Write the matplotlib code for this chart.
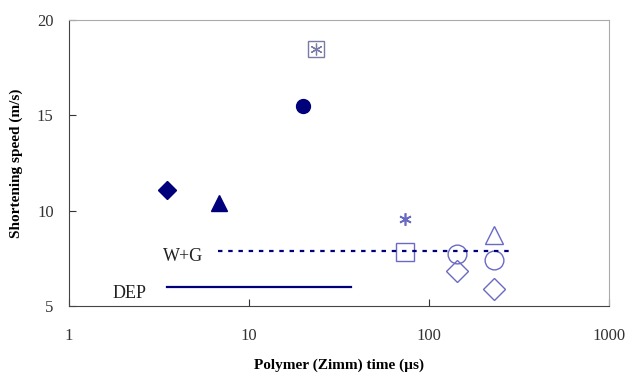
import matplotlib
matplotlib.use("Agg")
import matplotlib.pyplot as plt

plt.rcParams['font.family'] = ['Liberation Serif', 'DejaVu Serif']

navy = '#00007a'
light = '#6a6ac4'

# filled markers
filled_x = [3.5, 6.8, 20.0]
filled_y = [11.1, 10.4, 15.5]
filled_m = ['D', '^', 'o']
filled_s = [9.5, 12, 10]

# open markers
open_x = [74.0, 143.0, 143.0, 230.0, 230.0, 230.0]
open_y = [7.82, 7.73, 6.85, 8.72, 7.40, 5.88]
open_m = ['s', 'o', 'D', '^', 'o', 'D']

asterisk_x = [74.0]
asterisk_y = [9.56]
boxed_x = [23.6]
boxed_y = [18.5]

wg_x = [6.7, 290.0]
wg_y = [7.9, 7.9]
dep_x = [3.5, 37.0]
dep_y = [6.0, 6.0]

fig = plt.figure(figsize=(6.29, 3.75), dpi=100)
ax = fig.add_axes([0.1097, 0.184, 0.8583, 0.7627])

for x, y, m, s in zip(filled_x, filled_y, filled_m, filled_s):
    ax.plot(x, y, marker=m, color=navy, ms=s, ls='none')

for x, y, m in zip(open_x, open_y, open_m):
    ax.plot(x, y, marker=m, mfc='none', mec=light, mew=1.0,
            ms=13.5 if m != 'D' else 11, ls='none')

ax.plot(asterisk_x, asterisk_y, marker=(6, 2, 0), color=light, ms=9, mew=1.2, ls='none')
ax.plot(boxed_x, boxed_y, marker='s', mfc='none', mec='#7a7aa8', mew=1.0, ms=11, ls='none')
ax.plot(boxed_x, boxed_y, marker=(6, 2, 0), color='#7a7aa8', ms=8.5, mew=0.9, ls='none')

ax.plot(wg_x, wg_y, color=navy, lw=1.6, ls=(0, (2.0, 2.6)))
ax.plot(dep_x, dep_y, color=navy, lw=1.6)

ax.text(5.55, 7.62, 'W+G', fontsize=13, ha='right', va='center', color='#222222')
ax.text(2.7, 5.68, 'DEP', fontsize=13, ha='right', va='center', color='#222222')

ax.set_xscale('log')
ax.set_xlim(1, 1000)
ax.set_ylim(5, 20)
ax.set_xticks([1, 10, 100, 1000])
ax.set_xticklabels(['1', '10', '100', '1000'])
ax.set_yticks([5, 10, 15, 20])
ax.minorticks_off()
ax.tick_params(axis='x', direction='in', length=5, pad=16, labelsize=12, colors='#333333')
ax.tick_params(axis='y', direction='in', length=5, pad=11, labelsize=12, colors='#333333')

for s in ['top', 'right']:
    ax.spines[s].set_color('#aaaaaa')
for s in ['left', 'bottom']:
    ax.spines[s].set_color('#444444')

ax.set_xlabel('Polymer (Zimm) time (\u00b5s)', fontsize=11, fontweight='bold', labelpad=10)
ax.set_ylabel('Shortening speed (m/s)', fontsize=11, fontweight='bold', labelpad=10)

fig.savefig('out.png', dpi=100)
